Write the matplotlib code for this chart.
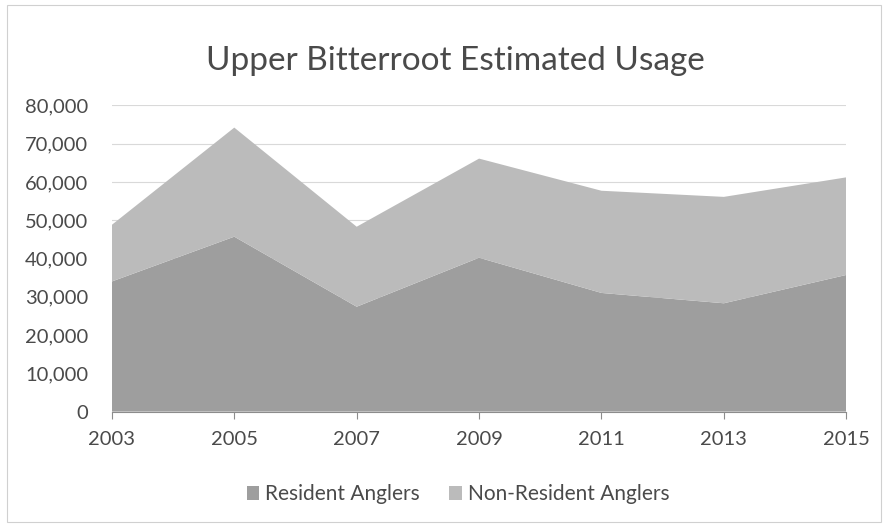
import matplotlib.pyplot as plt
from matplotlib.patches import Rectangle

years = [2003, 2005, 2007, 2009, 2011, 2013, 2015]
resident = [34000, 45700, 27400, 40200, 31000, 28300, 35700]
non_resident = [14800, 28500, 20900, 25900, 26700, 27800, 25500]

plt.rcParams['font.family'] = ['Lato', 'DejaVu Sans']
text_color = '#4a4a4a'

fig = plt.figure(figsize=(8.88, 5.27), dpi=100)
fig.patches.append(Rectangle((0.008, 0.01), 0.984, 0.98, transform=fig.transFigure,
                             fill=False, edgecolor='#d0d0d0', linewidth=0.8))
ax = fig.add_axes([0.126, 0.219, 0.827, 0.581])

ax.stackplot(years, resident, non_resident,
             colors=['#9e9e9e', '#bbbbbb'],
             labels=['Resident Anglers', 'Non-Resident Anglers'], zorder=2)

ax.set_xlim(2003, 2015)
ax.set_ylim(0, 80000)
ax.set_xticks(years)
ax.set_yticks(range(0, 80001, 10000))
ax.set_yticklabels(['{:,}'.format(v) for v in range(0, 80001, 10000)])
ax.grid(axis='y', color='#d9d9d9', linewidth=0.8, zorder=0)
ax.set_axisbelow(True)

for s in ['top', 'right', 'left']:
    ax.spines[s].set_visible(False)
ax.spines['bottom'].set_color('#8c8c8c')
ax.tick_params(axis='y', length=0, labelsize=14.5, labelcolor=text_color, pad=17)
ax.tick_params(axis='x', length=5, color='#8c8c8c', labelsize=14.5, labelcolor=text_color, pad=9)

fig.text(0.513, 0.885, 'Upper Bitterroot Estimated Usage', ha='center', va='center',
         fontsize=24, color=text_color)

fig.legend(loc='center', bbox_to_anchor=(0.516, 0.062), ncol=2, frameon=False,
           fontsize=15, labelcolor=text_color, handlelength=0.6, handleheight=0.6,
           handletextpad=0.3, columnspacing=1.4)

fig.savefig('out.png', dpi=100)
